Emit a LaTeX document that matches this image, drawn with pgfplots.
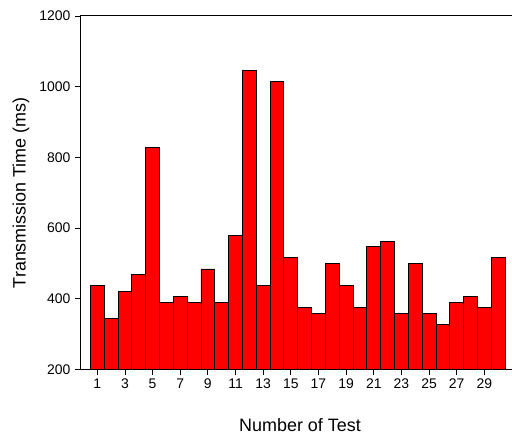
\documentclass[border=0pt]{standalone}
\usepackage{pgfplots}
\pgfplotsset{compat=1.18}
\usepackage{fontspec}
\setmainfont{Liberation Sans}
\begin{document}
\begin{tikzpicture}
\begin{axis}[
  scale only axis,
  width=432bp, height=353.5bp,
  xmin=-0.25, xmax=31,
  ymin=200, ymax=1200,
  ybar, bar width=1,
  axis y line*=left,
  axis line style={line width=1pt},
  xtick={1,3,...,29},
  ytick={200,400,...,1200},
  xtick pos=bottom, ytick pos=left,
  tick align=outside,
  major tick length=5bp,
  tick style={line width=0.8pt, black},
  /pgf/number format/assume math mode=true,
  /pgf/number format/1000 sep={},
  ticklabel style={font=\fontsize{14}{16}\selectfont},
  xticklabel style={yshift=-1bp},
  yticklabel style={xshift=-1bp},
  every axis y label/.style={at={(axis description cs:0,0.5)}, xshift=-59bp, rotate=90, anchor=center, inner sep=0pt},
  every axis x label/.style={at={(axis description cs:0.5,0)}, xshift=4bp, yshift=-61.5bp, anchor=base, inner sep=0pt},
  label style={font=\fontsize{18}{20}\selectfont},
  xlabel={Number of Test},
  ylabel={Transmission Time (ms)},
]
\addplot[fill=red, draw=black, line width=0.9pt] coordinates {
(1,437.5) (2,343.75) (3,421.875) (4,468.75) (5,828.125)
(6,390.625) (7,406.25) (8,390.625) (9,484.375) (10,390.625)
(11,578.125) (12,1046.875) (13,437.5) (14,1015.625) (15,515.625)
(16,375) (17,359.375) (18,500) (19,437.5) (20,375)
(21,546.875) (22,562.5) (23,359.375) (24,500) (25,359.375)
(26,328.125) (27,390.625) (28,406.25) (29,375) (30,515.625)
};
\end{axis}
\pgfresetboundingbox
\path[use as bounding box] ([xshift=-80bp,yshift=-65.5bp]current axis.south west) rectangle ([yshift=16bp]current axis.north east);
\end{tikzpicture}
\end{document}
